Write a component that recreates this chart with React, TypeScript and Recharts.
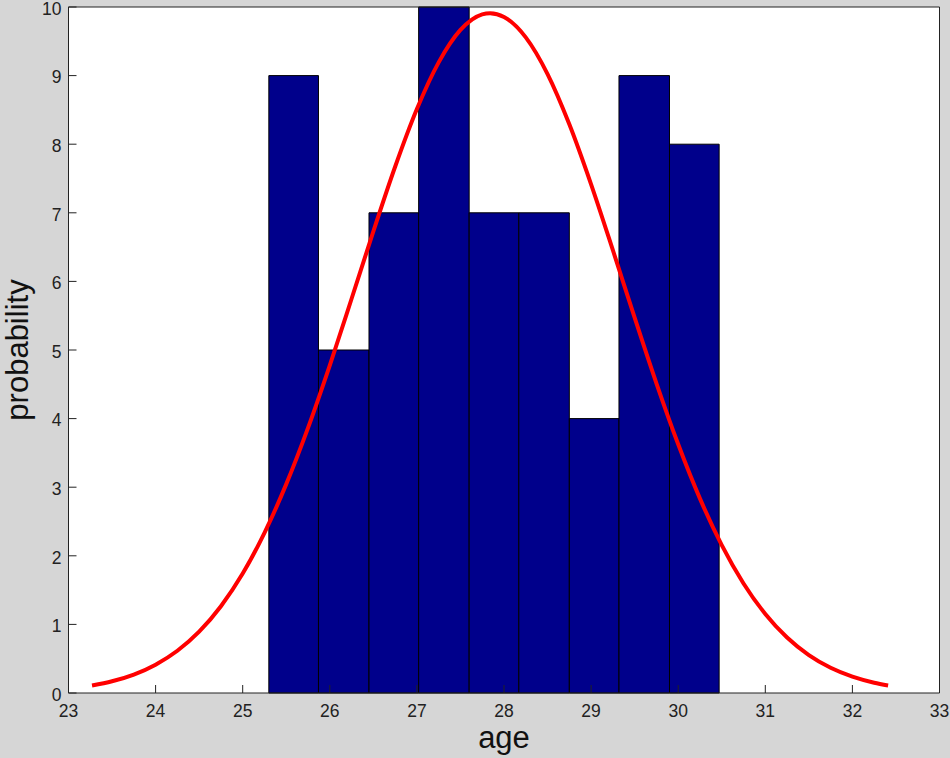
import {
  CartesianGrid,
  ComposedChart,
  Line,
  ReferenceArea,
  XAxis,
  YAxis,
} from "recharts";

// histogram bins (edges) and counts
const binEdges = [25.3, 25.87, 26.45, 27.02, 27.6, 28.17, 28.75, 29.32, 29.9, 30.47];
const binCounts = [9, 5, 7, 10, 7, 7, 4, 9, 8];

// fitted curve
const curveAge = [
  23.27, 23.5, 23.75, 24, 24.25, 24.5, 24.75, 25, 25.25, 25.5, 25.75, 26, 26.25,
  26.5, 26.75, 27, 27.25, 27.5, 27.75, 27.84, 28, 28.25, 28.5, 28.75, 29, 29.25,
  29.5, 29.75, 30, 30.25, 30.5, 30.75, 31, 31.25, 31.5, 31.75, 32, 32.25, 32.41,
];
const curveValue = [
  0.11, 0.171, 0.269, 0.413, 0.616, 0.894, 1.265, 1.741, 2.334, 3.045, 3.865,
  4.777, 5.747, 6.729, 7.671, 8.512, 9.193, 9.666, 9.893, 9.91, 9.855, 9.557,
  9.022, 8.29, 7.415, 6.455, 5.471, 4.514, 3.625, 2.833, 2.156, 1.597, 1.151,
  0.808, 0.552, 0.367, 0.238, 0.15, 0.11,
];

const xTicks = [23, 24, 25, 26, 27, 28, 29, 30, 31, 32, 33];
const yTicks = [0, 1, 2, 3, 4, 5, 6, 7, 8, 9, 10];

const curveData = curveAge.map((age, i) => ({ age, pdf: curveValue[i] }));
const bins = binCounts.map((count, i) => ({
  x1: binEdges[i],
  x2: binEdges[i + 1],
  count,
}));

const INK = "#222222";
const tickFont = { fontSize: 17.5, fill: INK };

export default function App() {
  return (
    <div
      style={{
        position: "absolute",
        left: 0,
        top: 0,
        width: 950,
        height: 758,
        background: "#d6d6d6",
        fontFamily: "'Liberation Sans', Arial, sans-serif",
      }}
    >
      <ComposedChart
        width={950}
        height={758}
        data={curveData}
        margin={{ top: 6, right: 9.5, bottom: 0, left: 0 }}
      >
        <CartesianGrid horizontal={false} vertical={false} fill="#ffffff" />
        <XAxis
          dataKey="age"
          type="number"
          domain={[23, 33]}
          allowDataOverflow
          ticks={xTicks}
          interval={0}
          height={65}
          tickSize={-8}
          tickMargin={20}
          tick={tickFont}
          stroke={INK}
          label={{
            value: "age",
            position: "insideBottom",
            offset: 10,
            style: { fontSize: 31, fill: "#111" },
          }}
        />
        <XAxis
          xAxisId="top"
          orientation="top"
          type="number"
          domain={[23, 33]}
          allowDataOverflow
          ticks={xTicks}
          interval={0}
          height={1}
          tickSize={-8}
          tick={false}
          stroke={INK}
        />
        <YAxis
          type="number"
          domain={[0, 10]}
          allowDataOverflow
          ticks={yTicks}
          interval={0}
          width={68.5}
          tickSize={-8}
          tickMargin={15}
          tick={{ ...tickFont, dy: 1.5 }}
          stroke={INK}
          label={{
            value: "probability",
            angle: -90,
            position: "insideLeft",
            offset: 17,
            style: { fontSize: 31, fill: "#111", textAnchor: "middle" },
          }}
        />
        <YAxis
          yAxisId="right"
          orientation="right"
          type="number"
          domain={[0, 10]}
          allowDataOverflow
          ticks={yTicks}
          interval={0}
          width={1}
          tickSize={-8}
          tick={false}
          stroke={INK}
        />
        {bins.map((b, i) => (
          <ReferenceArea
            key={i}
            x1={b.x1}
            x2={b.x2}
            y1={0}
            y2={b.count}
            fill="#00008b"
            fillOpacity={1}
            stroke="#000000"
            strokeWidth={1}
          />
        ))}
        <Line
          dataKey="pdf"
          type="monotone"
          stroke="#ff0000"
          strokeWidth={4}
          dot={false}
          activeDot={false}
          isAnimationActive={false}
        />
      </ComposedChart>
    </div>
  );
}
